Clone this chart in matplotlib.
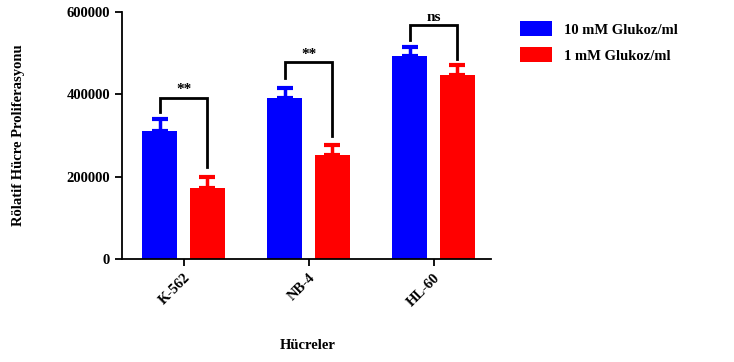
import matplotlib
matplotlib.use("Agg")
import matplotlib.pyplot as plt
import numpy as np
from matplotlib.patches import Patch

categories = ["K-562", "NB-4", "HL-60"]
series_names = ["10 mM Glukoz/ml", "1 mM Glukoz/ml"]
high_glucose = [311000, 391000, 492000]
high_err = [30000, 24000, 23000]
low_glucose = [172000, 252000, 446000]
low_err = [28000, 26000, 26000]
significance = ["**", "**", "ns"]
bracket_top = [392000, 477000, 568000]
bracket_left = [357000, 439000, 531000]
bracket_right = [224000, 299000, 485000]
yticks = [0, 200000, 400000, 600000]

plt.rcParams['font.family'] = ['Liberation Serif', 'DejaVu Serif']
plt.rcParams['font.weight'] = 'bold'

fig = plt.figure(figsize=(7.34, 3.62), dpi=100)
ax = fig.add_axes([122/734, 1-259.3/362, (491-122)/734, (259.3-11.7)/362])

x = np.arange(len(categories))
off = 0.19
w = 0.28
blue = "#0000FF"
red = "#FF0000"
ax.bar(x - off, high_glucose, w, color=blue, zorder=2)
ax.bar(x + off, low_glucose, w, color=red, zorder=2)
ax.errorbar(x - off, high_glucose, yerr=[np.zeros(3), high_err], fmt='none',
            ecolor=blue, elinewidth=2.5, capsize=5.5, capthick=3, zorder=1)
ax.errorbar(x + off, low_glucose, yerr=[np.zeros(3), low_err], fmt='none',
            ecolor=red, elinewidth=2.5, capsize=5.5, capthick=3, zorder=1)

for i in range(len(categories)):
    xl, xr = x[i] - off, x[i] + off
    ax.plot([xl, xl, xr, xr], [bracket_left[i], bracket_top[i], bracket_top[i], bracket_right[i]],
            color='black', lw=2, solid_joinstyle='miter', zorder=3, clip_on=False)
    ax.text(x[i], bracket_top[i] + 3000, significance[i], ha='center', va='bottom',
            fontsize=11, fontweight='bold', color='black')

ax.set_xlim(-0.492, 2.46)
ax.set_ylim(0, 600000)
ax.set_yticks(yticks)
ax.set_yticklabels([str(v) for v in yticks], fontsize=10.5, fontweight='bold')
ax.set_xticks(x)
ax.set_xticklabels(categories, rotation=45, ha='right', rotation_mode='anchor',
                   fontsize=10.5, fontweight='bold')
for s in ['top', 'right']:
    ax.spines[s].set_visible(False)
for s in ['left', 'bottom']:
    ax.spines[s].set_linewidth(1.3)
ax.tick_params(axis='both', length=5, width=1.3)
ax.set_ylabel("Rölatif Hücre Proliferasyonu", fontsize=10.5, fontweight='bold')
ax.yaxis.set_label_coords(-0.262, 0.5)
ax.set_xlabel("Hücreler", fontsize=10.5, fontweight='bold')
ax.xaxis.set_label_coords(0.504, -0.32)

handles = [Patch(facecolor=blue), Patch(facecolor=red)]
fig.legend(handles, series_names, loc='upper left', bbox_to_anchor=(507/734, 1-8/362),
           frameon=False, prop={'size': 10.5, 'weight': 'bold'},
           handlelength=2.2, handleheight=1.2, handletextpad=0.8, labelspacing=0.75)

fig.savefig("out.png", dpi=100)
